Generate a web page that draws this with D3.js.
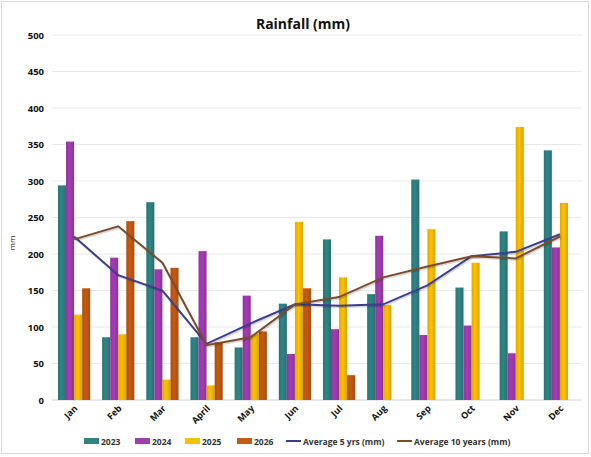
<!DOCTYPE html>
<html>
<head>
<meta charset="utf-8">
<title>Rainfall (mm)</title>
<script src="https://d3js.org/d3.v7.min.js"></script>
<style>
body { margin: 0; background: #fff; }
text { font-family: "Open Sans", "Liberation Sans", sans-serif; }
</style>
</head>
<body>
<div id="container"></div>
<script>
// data
var months = ["Jan","Feb","Mar","April","May","Jun","Jul","Aug","Sep","Oct","Nov","Dec"];
var years = ["2023","2024","2025","2026"];
var rain2023 = [294, 86, 271, 86, 72, 132, 220, 145, 302, 154, 231, 342];
var rain2024 = [354, 195, 179, 204, 143, 63, 97, 225, 89, 102, 64, 209];
var rain2025 = [117, 90, 28, 20, 90, 244, 168, 130, 234, 188, 374, 270];
var rain2026 = [153, 245, 181, 79, 94, 153, 34, null, null, null, null, null];
var avg5 = [224, 171, 150, 77, 105, 131, 129, 131, 157, 197, 203, 227];
var avg10 = [220, 238, 188, 75, 86, 131, 141, 168, 183, 197, 194, 224];
var yTicks = [0, 50, 100, 150, 200, 250, 300, 350, 400, 450, 500];

var barColors = ["#2F8586", "#A43CB4", "#FFC000", "#C65A12"];
var lineColors = ["#3D3D8E", "#7B4C2C"];

var W = 591, H = 457;
var svg = d3.select("#container")
	.append("svg")
	.attr("width", W)
	.attr("height", H);

// chart frame
svg.append("rect")
	.attr("x", 1.5).attr("y", 1.5)
	.attr("width", W - 4).attr("height", H - 5)
	.attr("fill", "#fff")
	.attr("stroke", "#D9D9D9");

// gradients for the bars, a bit darker at the edges
var defs = svg.append("defs");
barColors.forEach(function(c, i) {
	var g = defs.append("linearGradient")
		.attr("id", "grad" + i)
		.attr("x1", "0").attr("x2", "1").attr("y1", "0").attr("y2", "0");
	g.append("stop").attr("offset", "0%").attr("stop-color", d3.color(c).darker(0.35));
	g.append("stop").attr("offset", "45%").attr("stop-color", c);
	g.append("stop").attr("offset", "100%").attr("stop-color", d3.color(c).darker(0.45));
});

var x = d3.scaleBand()
	.domain(months)
	.range([52, 582])
	.paddingInner(0.27)
	.paddingOuter(0.135);

var xSub = d3.scaleBand()
	.domain(years)
	.range([0, x.bandwidth()]);

var y = d3.scaleLinear()
	.domain([0, 500])
	.range([400, 35]);

// gridlines
svg.append("g")
	.selectAll("line")
	.data(yTicks)
	.enter().append("line")
	.attr("x1", 52).attr("x2", 582)
	.attr("y1", function(d) { return y(d); })
	.attr("y2", function(d) { return y(d); })
	.attr("stroke", function(d) { return d === 0 ? "#D0D0D0" : "#E8E8E8"; })
	.attr("stroke-width", 1);

// y axis labels
var yAxis = svg.append("g")
	.attr("transform", "translate(44,0)")
	.call(d3.axisLeft(y).tickValues(yTicks).tickSize(0).tickPadding(0));
yAxis.select(".domain").remove();
yAxis.selectAll("text")
	.attr("font-size", "9.5px")
	.attr("font-weight", "bold")
	.attr("fill", "#111")
	.style("font-family", "'Open Sans', sans-serif");

// y axis title
svg.append("text")
	.attr("transform", "translate(15,243) rotate(-90)")
	.attr("text-anchor", "middle")
	.attr("font-size", "8px")
	.attr("fill", "#222")
	.text("mm");

// x axis labels
var xAxis = svg.append("g")
	.attr("transform", "translate(0,400)")
	.call(d3.axisBottom(x).tickSize(0).tickPadding(0));
xAxis.select(".domain").remove();
xAxis.selectAll("text")
	.attr("font-size", "9px")
	.attr("font-weight", "bold")
	.attr("fill", "#111")
	.style("font-family", "'Open Sans', sans-serif")
	.attr("text-anchor", "end")
	.attr("dy", null)
	.attr("y", 0)
	.attr("transform", "translate(4,9) rotate(-45)");

// bars
var series = [rain2023, rain2024, rain2025, rain2026];
var groups = svg.append("g")
	.selectAll("g")
	.data(months)
	.enter().append("g")
	.attr("transform", function(d) { return "translate(" + x(d) + ",0)"; });

groups.selectAll("rect")
	.data(function(m, i) {
		return years.map(function(yr, j) { return {year: yr, idx: j, value: series[j][i]}; })
			.filter(function(d) { return d.value !== null; });
	})
	.enter().append("rect")
	.attr("x", function(d) { return xSub(d.year); })
	.attr("width", xSub.bandwidth())
	.attr("y", function(d) { return y(d.value); })
	.attr("height", function(d) { return y(0) - y(d.value); })
	.attr("fill", function(d) { return "url(#grad" + d.idx + ")"; });

// average lines
var line = d3.line()
	.x(function(d, i) { return x(months[i]) + x.bandwidth() / 2; })
	.y(function(d) { return y(d); });

[avg5, avg10].forEach(function(arr, i) {
	svg.append("path")
		.datum(arr)
		.attr("d", line)
		.attr("fill", "none")
		.attr("stroke", "rgba(0,0,0,0.15)")
		.attr("stroke-width", 2)
		.attr("transform", "translate(1,1.5)");
	svg.append("path")
		.datum(arr)
		.attr("d", line)
		.attr("fill", "none")
		.attr("stroke", lineColors[i])
		.attr("stroke-width", 2);
});

// title
svg.append("text")
	.attr("x", 303)
	.attr("y", 29)
	.attr("text-anchor", "middle")
	.attr("font-size", "14px")
	.attr("font-weight", "bold")
	.attr("fill", "#111")
	.text("Rainfall (mm)");

// legend
var legendItems = [
	{label: "2023", type: "bar", color: barColors[0], x: 84},
	{label: "2024", type: "bar", color: barColors[1], x: 135},
	{label: "2025", type: "bar", color: barColors[2], x: 185},
	{label: "2026", type: "bar", color: barColors[3], x: 237},
	{label: "Average 5 yrs (mm)", type: "line", color: lineColors[0], x: 286},
	{label: "Average 10 years (mm)", type: "line", color: lineColors[1], x: 397}
];
var legend = svg.append("g");
legendItems.forEach(function(d) {
	if (d.type === "bar") {
		legend.append("rect")
			.attr("x", d.x).attr("y", 438)
			.attr("width", 15).attr("height", 6)
			.attr("fill", d.color);
	} else {
		legend.append("line")
			.attr("x1", d.x).attr("x2", d.x + 15)
			.attr("y1", 441).attr("y2", 441)
			.attr("stroke", d.color)
			.attr("stroke-width", 2);
	}
	legend.append("text")
		.attr("x", d.x + 17)
		.attr("y", 444.5)
		.attr("font-size", "8.5px")
		.attr("font-weight", "bold")
		.attr("fill", "#333")
		.text(d.label);
});
</script>
</body>
</html>
